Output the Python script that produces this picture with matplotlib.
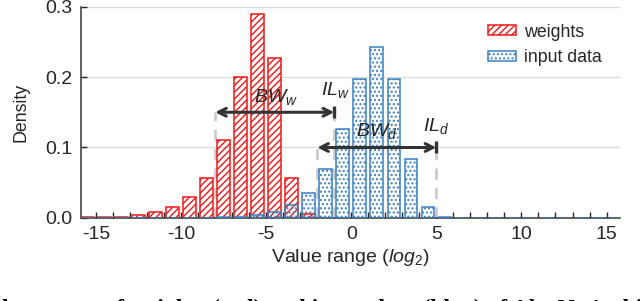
import numpy as np
import matplotlib
matplotlib.use("Agg")
import matplotlib.pyplot as plt

plt.rcParams['font.family'] = ['Liberation Sans', 'DejaVu Sans']
plt.rcParams['mathtext.fontset'] = 'custom'
plt.rcParams['mathtext.rm'] = 'Liberation Sans'
plt.rcParams['mathtext.it'] = 'Liberation Sans:italic'
plt.rcParams['axes.unicode_minus'] = False
plt.rcParams['hatch.linewidth'] = 1.0

# bin centres (log2 of value), one bar per bin
bins = np.arange(-15.5, 16.0, 1.0)

weights = [0.001, 0.001, 0.002, 0.004, 0.008, 0.015, 0.029, 0.057, 0.11, 0.2,
           0.29, 0.227, 0.057, 0.005, 0.0, 0.0, 0.0, 0.0, 0.0, 0.0,
           0.0, 0.0, 0.0, 0.0, 0.0, 0.0, 0.0, 0.0, 0.0, 0.0, 0.0, 0.0]
input_data = [0.0, 0.0, 0.0, 0.0, 0.0, 0.0, 0.0, 0.0, 0.001, 0.002,
              0.004, 0.009, 0.018, 0.036, 0.07, 0.126, 0.197, 0.242, 0.197, 0.084,
              0.015, 0.001, 0.0, 0.0, 0.0, 0.0, 0.0, 0.0, 0.0, 0.0, 0.0, 0.0]

# bandwidth / integer-length markers: (left, right, y) for each arrow
bw_w = (-8, -1, 0.15)
bw_d = (-2, 5, 0.1)

red = '#f01818'
blue = '#3a80c3'
txt = '#262626'

fig = plt.figure(figsize=(6.4, 3.01), dpi=100)
ax = fig.add_axes([0.126, 0.276, 0.843, 0.702])

ax.bar(bins, weights, width=0.74, facecolor='none', edgecolor=red,
       hatch='/////', linewidth=1.1, label='weights', zorder=2)
ax.bar(bins, input_data, width=0.74, facecolor='none', edgecolor=blue,
       hatch='....', linewidth=1.1, label='input data', zorder=3)

# dashed guides and arrows
for left, right, y in (bw_w, bw_d):
    ax.vlines([left, right], 0, y, colors='#cccccc', linestyles=(0, (4, 3)),
              linewidth=2, zorder=1)
    ax.annotate('', xy=(right, y), xytext=(left, y),
                arrowprops=dict(arrowstyle='<->', lw=2.2, color='#333333',
                                shrinkA=0, shrinkB=0, mutation_scale=14),
                zorder=5)
    ax.plot([right], [y], marker='|', ms=9, mew=2.4, color='#333333', zorder=5)

ax.text(-4.45, 0.171, r'$BW_w$', fontsize=14, ha='center', va='center', color=txt)
ax.text(-0.95, 0.181, r'$IL_w$', fontsize=14, ha='center', va='center', color=txt)
ax.text(1.5, 0.124, r'$BW_d$', fontsize=14, ha='center', va='center', color=txt)
ax.text(5.0, 0.131, r'$IL_d$', fontsize=14, ha='center', va='center', color=txt)

ax.set_xlim(-15.9, 15.8)
ax.set_ylim(0, 0.3)
ax.set_xticks([-15, -10, -5, 0, 5, 10, 15])
ax.set_xticks(np.arange(-15, 16), minor=True)
ax.set_yticks([0, 0.1, 0.2, 0.3])
ax.set_yticklabels(['0.0', '0.1', '0.2', '0.3'])
ax.tick_params(axis='both', direction='in', labelsize=14, colors=txt,
               length=4, width=1, pad=6)
ax.tick_params(axis='x', which='minor', direction='in', length=4, width=1,
               colors=txt)
ax.grid(axis='y', color='#dddddd', linewidth=1, zorder=0)
ax.set_axisbelow(True)
for s in ('top', 'right'):
    ax.spines[s].set_visible(False)
for s in ('left', 'bottom'):
    ax.spines[s].set_color('#444444')
    ax.spines[s].set_linewidth(1.2)

ax.set_xlabel(r'Value range ($\mathit{log}_2$)', fontsize=14, color=txt, labelpad=3)
ax.set_ylabel('Density', fontsize=12.8, color=txt, labelpad=11)

leg = ax.legend(loc='upper left', bbox_to_anchor=(0.755, 0.92), frameon=False,
                fontsize=12.8, handlelength=1.6, handleheight=0.45,
                handletextpad=0.45, labelspacing=0.5, borderpad=0,
                borderaxespad=0)
for t in leg.get_texts():
    t.set_color(txt)

fig.text(-0.01, -0.064, "the ranges of weights (red) and input data (blue) of AlexNet's third layer",
         fontsize=17, fontfamily='Liberation Serif', fontweight='bold', va='bottom')

fig.savefig('out.png', dpi=100)
